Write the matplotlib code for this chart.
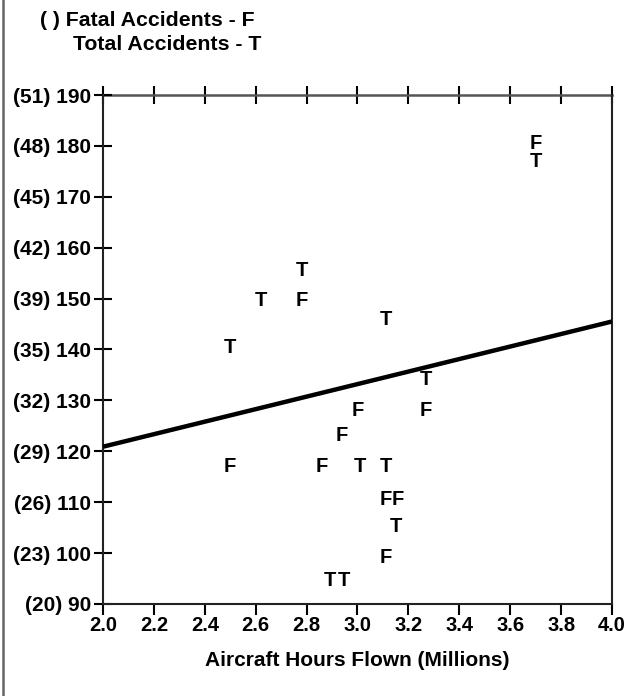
import matplotlib
matplotlib.use("Agg")
import matplotlib.pyplot as plt
from matplotlib.lines import Line2D

plt.rcParams['font.family'] = ['Liberation Sans', 'DejaVu Sans']
plt.rcParams['font.weight'] = 'bold'

# Total accidents (T) -- hours flown (millions) vs count
total_x = [2.50, 2.62, 2.78, 3.11, 3.27, 3.01, 3.11, 3.15, 2.89, 2.945, 3.70]
total_y = [140.4, 149.6, 155.6, 145.9, 134.1, 117.1, 117.1, 105.2, 94.6, 94.6, 176.9]

# Fatal accidents (F), plotted against the same axis (left label in parentheses)
fatal_x = [2.50, 2.78, 2.86, 2.94, 3.00, 3.27, 3.11, 3.16, 3.11, 3.70]
fatal_y = [117.1, 149.6, 117.1, 123.1, 128.1, 128.1, 110.6, 110.6, 99.2, 180.5]

# regression line end points
trend_x = [2.0, 4.0]
trend_y = [120.9, 145.5]

total_ticks = [90, 100, 110, 120, 130, 140, 150, 160, 170, 180, 190]
fatal_ticks = [20, 23, 26, 29, 32, 35, 39, 42, 45, 48, 51]
x_ticks = [2.0, 2.2, 2.4, 2.6, 2.8, 3.0, 3.2, 3.4, 3.6, 3.8, 4.0]

fig = plt.figure(figsize=(6.33, 6.96), dpi=100)
ax = fig.add_axes([0.1627, 0.1322, 0.9668 - 0.1627, 0.8635 - 0.1322])

ax.plot(trend_x, trend_y, color='black', linewidth=3.2, solid_capstyle='butt', zorder=3)

for x, y in zip(total_x, total_y):
    ax.text(x, y, 'T', ha='center', va='center', fontsize=14.5, fontweight='bold')
for x, y in zip(fatal_x, fatal_y):
    ax.text(x, y, 'F', ha='center', va='center', fontsize=14.5, fontweight='bold')

ax.set_xlim(2.0, 4.0)
ax.set_ylim(90, 190)
ax.set_xticks(x_ticks)
ax.set_xticklabels(['%.1f' % v for v in x_ticks], fontsize=14.5, fontweight='bold')
ax.set_yticks(total_ticks)
ax.set_yticklabels(['(%d) %d' % (f, t) for f, t in zip(fatal_ticks, total_ticks)],
                   fontsize=15, fontweight='bold')

ax.tick_params(axis='y', direction='inout', length=13, width=1.5, pad=2, right=False)
ax.tick_params(axis='x', direction='out', length=8, width=1.5, pad=1, top=False)

for s in ax.spines.values():
    s.set_linewidth(1.5)
    s.set_color('#222222')
ax.spines['top'].set_visible(False)

top = ax.secondary_xaxis('top')
top.set_xticks(x_ticks)
top.tick_params(direction='inout', length=13.5, width=1.5, labeltop=False)
top.spines['top'].set_linewidth(1.8)
top.spines['top'].set_color('#555555')

ax.set_xlabel('Aircraft Hours Flown (Millions)', fontsize=15, fontweight='bold', labelpad=11)

fig.text(40 / 633, 1 - 20 / 696, '( ) Fatal Accidents - F', fontsize=15.3, fontweight='bold',
         ha='left', va='center')
fig.text(73 / 633, 1 - 45 / 696, 'Total Accidents - T', fontsize=15.3, fontweight='bold',
         ha='left', va='center')

# grey frame edge on the left side
fig.add_artist(Line2D([2.5 / 633, 2.5 / 633], [0, 1], color='#666666', linewidth=1.8,
                      transform=fig.transFigure))

fig.savefig('out.png', dpi=100)
